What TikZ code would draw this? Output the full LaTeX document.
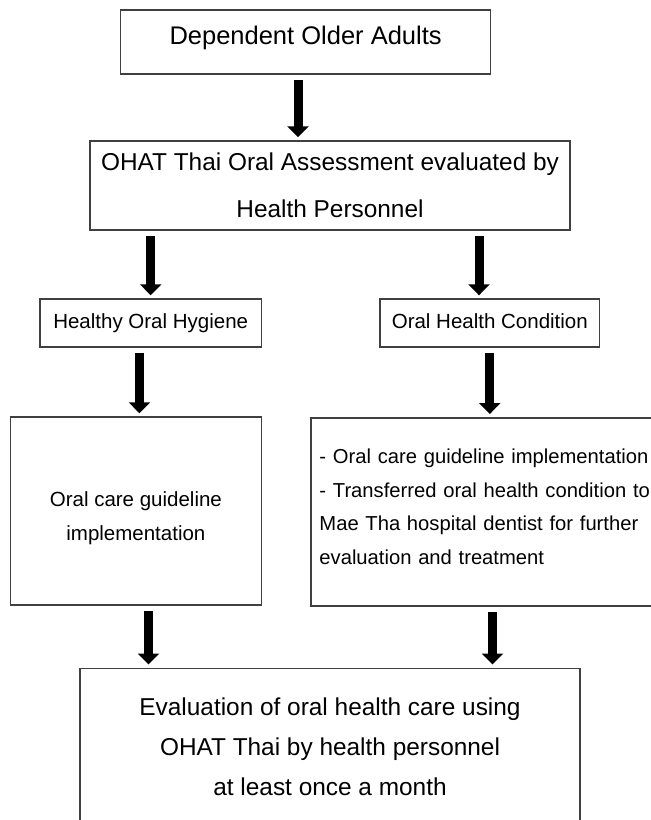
\documentclass[tikz,border=0pt]{standalone}
\usepackage{fontspec}
\setmainfont{Liberation Sans}
\usetikzlibrary{arrows.meta}
\tikzset{main box/.style={draw=black!75,line width=1.5pt,inner sep=0pt,align=center},
big arrow/.style={line width=9pt,-{Triangle[width=21pt,length=11pt]},shorten <=5pt,shorten >=3pt},
}

\begin{document}
\begin{tikzpicture}[x=1pt,y=-1pt]
				\useasboundingbox (0,0) rectangle (651,820);
				\clip (0,0) rectangle (651,820);
				\node[main box,minimum width=370pt,minimum height=64pt,text height=16pt,text depth=12pt,font=\fontsize{25.5}{30}\selectfont] (older) at (305.6,42) {Dependent Older Adults};
				\node[main box,minimum width=480pt,minimum height=89pt,font=\fontsize{24.4}{46.7}\selectfont] (ohat) at (330,185.5) {OHAT Thai Oral Assessment evaluated by\\Health Personnel};
				\node[main box,minimum width=221.4pt,minimum height=47.7pt,text height=15pt,text depth=4.3pt,font=\fontsize{20.5}{33.6}\selectfont] (healthy) at (150.7,322.9) {Healthy Oral Hygiene};
				\node[main box,minimum width=219.6pt,minimum height=47.7pt,text height=15pt,text depth=4.3pt,font=\fontsize{20.5}{33.6}\selectfont] (condition) at (489.8,322.9) {Oral Health Condition};
				\node[main box,minimum width=251pt,minimum height=188pt,font=\fontsize{20.5}{33.6}\selectfont] (guide) at (135.9,511) {\rule{0pt}{29pt}Oral care guideline\\implementation};
				\node[main box,anchor=north west,text width=345pt,align=left,inner xsep=8.3pt,minimum height=188pt,font=\fontsize{20.2}{33.6}\selectfont] (transfer) at (310.4,417) {- Oral care guideline implementation\\- Transferred oral health condition to\\Mae Tha hospital dentist for further\\evaluation and treatment\rule[-10pt]{0pt}{0pt}};
				\node[main box,anchor=north,minimum width=500pt,minimum height=157pt,font=\fontsize{24.4}{40}\selectfont] (evaluation) at (330,667.5) {Evaluation of oral health care using\\OHAT Thai by health personnel\\at least once a month};
				
				\path
				([xshift=-7.6pt]older.south) edge[big arrow] ([xshift=-7.6pt]older.south |- ohat.north)
				(healthy.north |- ohat.south) edge[big arrow] (healthy.north)
				([xshift=-10.8pt]condition.north |- ohat.south) edge[big arrow] ([xshift=-10.8pt]condition.north)
				([xshift=-11.3pt]healthy.south) edge[big arrow] ([xshift=-11.3pt]healthy.south |- guide.north)
				(condition.south) edge[big arrow] (condition.south |- transfer.north)
				([xshift=12.6pt]guide.south) edge[big arrow] ([xshift=12.6pt]guide.south |- evaluation.north)
				([xshift=2.7pt]condition.south |- transfer.south) edge[big arrow] ([xshift=2.7pt]condition.south |- evaluation.north);
				
			\end{tikzpicture}
\end{document}
